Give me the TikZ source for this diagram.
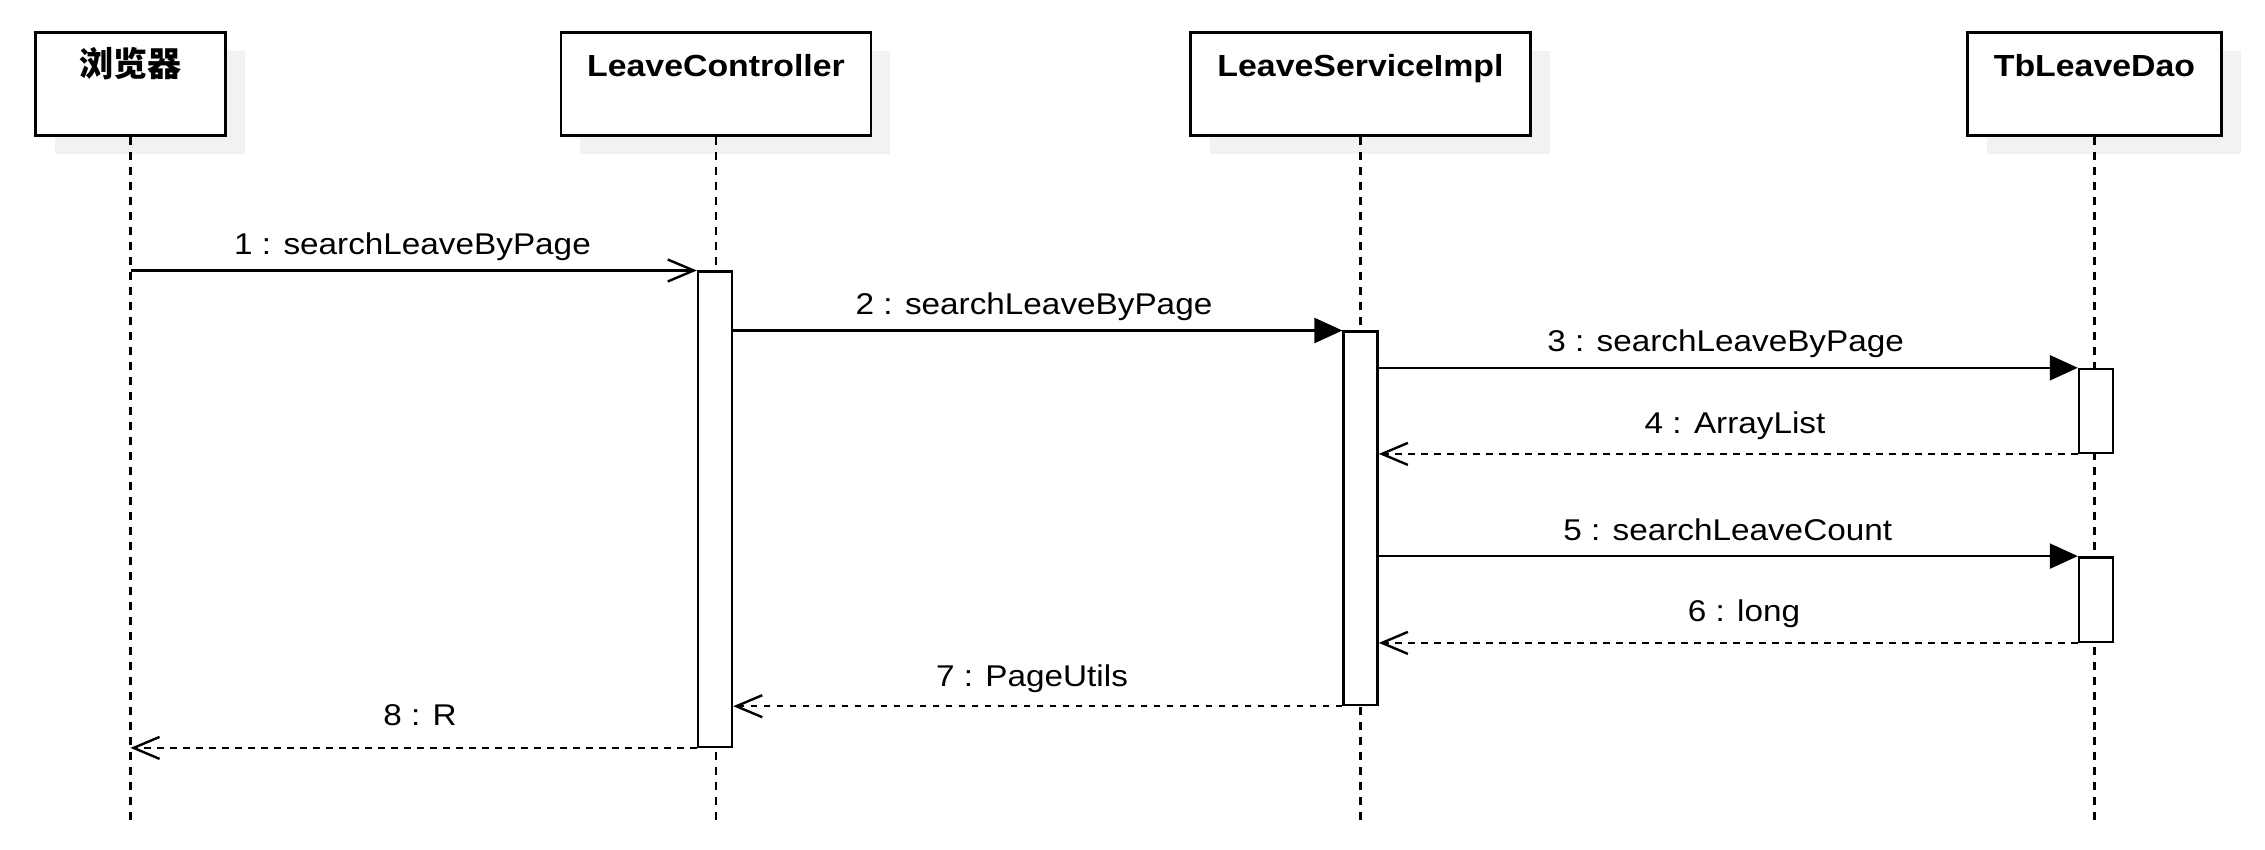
\documentclass[tikz,border=0pt]{standalone}
\usepackage{fontspec}
\setmainfont{Liberation Sans}[FakeStretch=1.11]
\newfontfamily\cjk{Noto Sans CJK SC}
\usetikzlibrary{arrows.meta,shadows}
\definecolor{shadowc}{RGB}{242,242,242}
\tikzset{
 actor/.style={draw, line width=2.6pt, fill=white, minimum height=103pt, inner sep=0pt,
   drop shadow={shadow xshift=19pt, shadow yshift=-18.5pt, fill=shadowc, opacity=1}},
 title/.style={font=\fontsize{30.5}{36}\selectfont\bfseries, anchor=base, inner sep=0pt},
 lifeline/.style={line width=2.2pt, dash pattern=on 8pt off 7pt},
 act/.style={draw, line width=2.4pt, fill=white, minimum width=34pt, inner sep=0pt},
 call/.style={line width=2.4pt, -{Triangle[length=28pt,width=25pt]}},
 sync/.style={line width=2.4pt, -{Straight Barb[length=26pt,width=22pt]}},
 ret/.style={line width=2.4pt, dash pattern=on 6.5pt off 6.5pt, -{Straight Barb[length=26pt,width=22pt]}},
 msg/.style={font=\fontsize{30}{36}\selectfont, anchor=base, inner sep=0pt},
}
\begin{document}
\begin{tikzpicture}[x=1pt,y=-1pt]
\useasboundingbox (0,0) rectangle (2265,850);
\coordinate (bottom) at (0,822);
% lifeline heads
\node[actor, minimum width=190pt] (b1) at (130.5,84) {};
\node[actor, minimum width=310pt] (b2) at (716,84) {};
\node[actor, minimum width=340pt] (b3) at (1360.5,84) {};
\node[actor, minimum width=254pt] (b4) at (2094.5,84) {};
\node[title, font=\cjk\fontsize{34}{40}\selectfont\bfseries] (t1) at (130.5,77) {浏览器};
\node[title] (t2) at (716,77) {LeaveController};
\node[title] (t3) at (1360.5,77) {LeaveServiceImpl};
\node[title] (t4) at (2094.5,77) {TbLeaveDao};
% lifelines
\draw[lifeline] (b1.south) -- (b1.south |- bottom);
\draw[lifeline] (b2.south) -- (b2.south |- bottom);
\draw[lifeline] (b3.south) -- (b3.south |- bottom);
\draw[lifeline] (b4.south) -- (b4.south |- bottom);
% activations
\node[act, minimum height=475pt] (a2) at (715,509.2) {};
\node[act, minimum height=373.3pt] (a3) at (1360.6,518.35) {};
\node[act, minimum height=83.7pt] (a4a) at (2096,410.85) {};
\node[act, minimum height=84.4pt] (a4b) at (2096,599.5) {};
% messages
\draw[sync] (b1.south |- a2.north) -- (a2.north west);
\draw[call] (a2.east |- a3.north) -- (a3.north west);
\draw[call] (a3.east |- a4a.north) -- (a4a.north west);
\draw[ret] (a4a.south west) -- (a3.east |- a4a.south);
\draw[call] (a3.east |- a4b.north) -- (a4b.north west);
\draw[ret] (a4b.south west) -- (a3.east |- a4b.south);
\draw[ret] (a3.south west) -- (a2.east |- a3.south);
\draw[ret] (a2.south west) -- (b1.south |- a2.south);
% labels
\node[msg] (l1) at (412.5,255) {1 : searchLeaveByPage};
\node[msg] (l2) at (1034,314.3) {2 : searchLeaveByPage};
\node[msg] (l3) at (1725.6,351.7) {3 : searchLeaveByPage};
\node[msg] (l4) at (1735,433.3) {4 : ArrayList};
\node[msg] (l5) at (1727.7,540) {5 : searchLeaveCount};
\node[msg] (l6) at (1744,621.7) {6 : long};
\node[msg] (l7) at (1032,686) {7 : PageUtils};
\node[msg] (l8) at (420,725) {8 : R};
\end{tikzpicture}
\end{document}
